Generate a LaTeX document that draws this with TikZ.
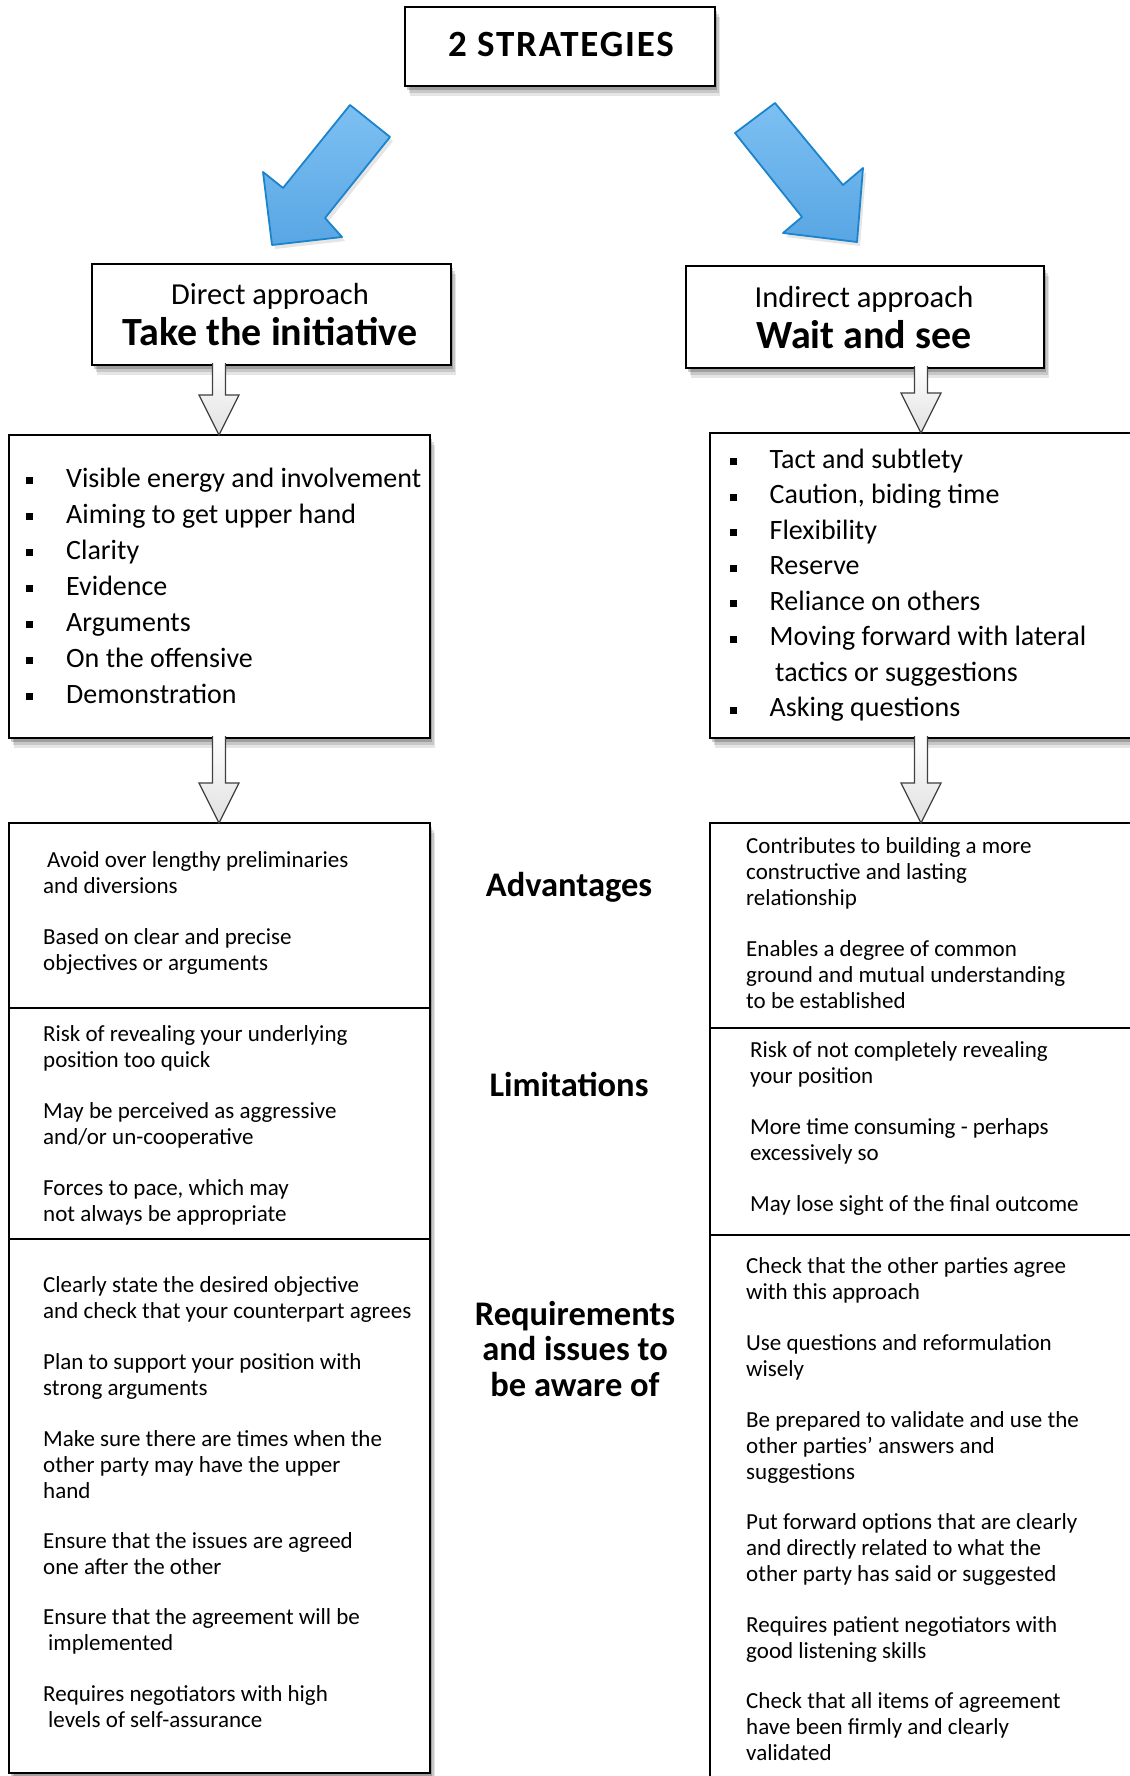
\documentclass[tikz,border=0pt]{standalone}
\usepackage{fontspec}
\setmainfont{Carlito}
\usetikzlibrary{shadows,calc}
\definecolor{arrfillA}{RGB}{125,192,242}
\definecolor{arrfillB}{RGB}{88,166,228}
\definecolor{arrline}{RGB}{28,132,204}
\newcommand\bul{\makebox[40pt][l]{\rule[3pt]{7pt}{7pt}}}
\newcommand\para[4]{\foreach \t [count=\i from 0] in {#4} {\node[sm, anchor=base west] (#1-\i) at (#2, #3+26*\i) {\t};}}
\newcommand\hollow[3]{\draw[hollowarr] ($(#1.south -| #3)+(-6.5,-2)$) -- ($(#2.north -| #3)+(-6.5,-40)$) -- ($(#2.north -| #3)+(-20,-40)$) -- (#2.north -| #3) -- ($(#2.north -| #3)+(20,-40)$) -- ($(#2.north -| #3)+(6.5,-40)$) -- ($(#1.south -| #3)+(6.5,-2)$);}
\begin{document}
\begin{tikzpicture}[x=1pt,y=-1pt,
  softshadow/.style={
    general shadow={fill=black, opacity=0.10, shadow xshift=5pt, shadow yshift=-10pt},
    general shadow={fill=black, opacity=0.13, shadow xshift=3.5pt, shadow yshift=-7pt},
    general shadow={fill=black, opacity=0.20, shadow xshift=2pt, shadow yshift=-4pt}},
  box/.style={draw=black, line width=2.4pt, fill=white, anchor=north west, inner sep=0pt, outer sep=0pt, softshadow},
  sm/.style={inner sep=0pt, font=\fontsize{23}{26}\selectfont},
  lst/.style={inner sep=0pt, font=\fontsize{28}{32}\selectfont},
  lbl/.style={inner sep=0pt, anchor=base, font=\fontsize{34.5}{36}\selectfont\bfseries},
  bluearr/.style={draw=arrline, line width=1.8pt, line join=round, top color=arrfillA, bottom color=arrfillB,
    general shadow={fill=black, opacity=0.10, shadow xshift=3pt, shadow yshift=-4pt}},
  hollowarr/.style={draw=black!75, line width=1.3pt, line join=miter, top color=white, bottom color=black!12}
]
\useasboundingbox (0,0) rectangle (1129,1776);
\fill[white] (0,0) rectangle (1129,1776);

% boxes
\node[box, minimum width=310pt, minimum height=79pt] (title) at (405,7) {};
\node[box, minimum width=359pt, minimum height=101pt] (dir) at (92,264) {};
\node[box, minimum width=358pt, minimum height=102pt] (ind) at (686,266) {};
\node[box, minimum width=421pt, minimum height=303pt] (dlist) at (9,435) {};
\node[box, minimum width=440pt, minimum height=305pt] (ilist) at (710,433) {};
\node[box, minimum width=421pt, minimum height=185pt] (dadv) at (9,823) {};
\node[box, minimum width=421pt, minimum height=231pt] (dlim) at (9,1008) {};
\node[box, minimum width=421pt, minimum height=534pt] (dreq) at (9,1239) {};
\node[box, minimum width=440pt, minimum height=205pt] (iadv) at (710,823) {};
\node[box, minimum width=440pt, minimum height=207pt] (ilim) at (710,1028) {};
\node[box, minimum width=440pt, minimum height=560pt] (ireq) at (710,1235) {};

% blue arrows
\draw[bluearr] (350,105) -- (390,137) -- (325,218) -- (342,237) -- (272,245) -- (263,172) -- (283,188) -- cycle;
\draw[bluearr] (735,133) -- (775,103) -- (843,185) -- (863,168) -- (857,242) -- (783,233) -- (802,217) -- cycle;

% hollow arrows
\coordinate (LX) at (219,0);
\coordinate (RX) at (921,0);
\hollow{dir}{dlist}{LX}
\hollow{dlist}{dadv}{LX}
\hollow{ind}{ilist}{RX}
\hollow{ilist}{iadv}{RX}

% headings
\node[inner sep=0pt, anchor=base, font=\fontsize{37}{38}\selectfont\bfseries\addfontfeature{LetterSpace=5}] (tt) at (561,57) {2 STRATEGIES};
\node[inner sep=0pt, anchor=base, font=\fontsize{30.5}{32}\selectfont] (dir-a) at (270,305) {Direct approach};
\node[inner sep=0pt, anchor=base, font=\fontsize{40}{40}\selectfont\bfseries] (dir-b) at (270,345) {Take the initiative};
\node[inner sep=0pt, anchor=base, font=\fontsize{30.5}{32}\selectfont] (ind-a) at (864,308) {Indirect approach};
\node[inner sep=0pt, anchor=base, font=\fontsize{40}{40}\selectfont\bfseries] (ind-b) at (864,348) {Wait and see};

% bullet lists
\foreach \t [count=\i from 0] in {Visible energy and involvement, Aiming to get upper hand, Clarity, Evidence, Arguments, On the offensive, Demonstration}
  \node[lst, anchor=base west] (dl-\i) at (26, 487+36*\i) {\bul\t};
\foreach \t [count=\i from 0] in {Tact and subtlety, {Caution, biding time}, Flexibility, Reserve, Reliance on others, Moving forward with lateral}
  \node[lst, anchor=base west] (il-\i) at (729.5, 468+35.5*\i) {\bul\t};
\node[lst, anchor=base west] (il-6) at (775, 681) {tactics or suggestions};
\node[lst, anchor=base west] (il-7) at (729.5, 716.5) {\bul Asking questions};

% middle labels
\node[lbl] (adv) at (569,896) {Advantages};
\node[lbl] (lim) at (569,1096) {Limitations};
\node[lbl] (req-1) at (575,1325) {Requirements};
\node[lbl] (req-2) at (575,1360.5) {and issues to};
\node[lbl] (req-3) at (575,1396) {be aware of};

% left column texts
\para{la1}{43}{867}{{\hspace{4pt}Avoid over lengthy preliminaries}, and diversions}
\para{la2}{43}{944}{Based on clear and precise, objectives or arguments}
\para{ll1}{43}{1041}{Risk of revealing your underlying, position too quick}
\para{ll2}{43}{1118}{May be perceived as aggressive, and/or un-cooperative}
\para{ll3}{43}{1195}{{Forces to pace, which may}, not always be appropriate}
\para{lr1}{43}{1292}{Clearly state the desired objective, and check that your counterpart agrees}
\para{lr2}{43}{1369}{Plan to support your position with, strong arguments}
\para{lr3}{43}{1446}{Make sure there are times when the, other party may have the upper, hand}
\para{lr4}{43}{1548}{Ensure that the issues are agreed, one after the other}
\para{lr5}{43}{1624}{Ensure that the agreement will be, {\hspace{5pt}implemented}}
\para{lr6}{43}{1701}{Requires negotiators with high, {\hspace{5pt}levels of self-assurance}}

% right column texts
\para{ra1}{746}{853}{Contributes to building a more, constructive and lasting, relationship}
\para{ra2}{746}{956}{Enables a degree of common, ground and mutual understanding, to be established}
\para{rl1}{750}{1057}{Risk of not completely revealing, your position}
\para{rl2}{750}{1134}{More time consuming - perhaps, excessively so}
\para{rl3}{750}{1211}{May lose sight of the final outcome}
\para{rr1}{746}{1273}{Check that the other parties agree, with this approach}
\para{rr2}{746}{1350}{Use questions and reformulation, wisely}
\para{rr3}{746}{1427}{Be prepared to validate and use the, other parties' answers and, suggestions}
\para{rr4}{746}{1529}{Put forward options that are clearly, and directly related to what the, other party has said or suggested}
\para{rr5}{746}{1632}{Requires patient negotiators with, good listening skills}
\para{rr6}{746}{1708}{Check that all items of agreement, have been firmly and clearly, validated}
\end{tikzpicture}
\end{document}
